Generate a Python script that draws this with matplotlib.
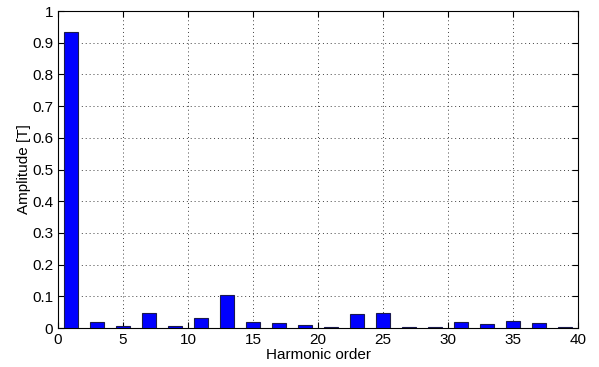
import numpy as np
import matplotlib
matplotlib.use("Agg")
import matplotlib.pyplot as plt

plt.rcParams['font.family'] = ['Liberation Sans', 'DejaVu Sans']

# odd harmonic orders and their amplitudes
orders = np.arange(1, 40, 2)
amplitudes = [0.933, 0.019, 0.007, 0.047, 0.007, 0.032, 0.105, 0.020, 0.016, 0.010,
              0.005, 0.045, 0.048, 0.004, 0.003, 0.019, 0.014, 0.023, 0.017, 0.003]

xticks = [0, 5, 10, 15, 20, 25, 30, 35, 40]
yticks = np.round(np.arange(0, 1.01, 0.1), 1)

fig = plt.figure(figsize=(5.99, 3.67), dpi=100)
ax = fig.add_axes([0.0968, 0.106, 0.8682, 0.864])

ax.bar(orders, amplitudes, width=1.05, color=(0, 0, 1), edgecolor=(0.1, 0.1, 0.3),
       linewidth=0.8, zorder=3)

ax.set_xlim(0, 40)
ax.set_ylim(0, 1)
ax.set_xticks(xticks)
ax.set_yticks(yticks)
ax.set_yticklabels(['0'] + ['%g' % v for v in yticks[1:]])
ax.grid(True, linestyle=(0, (1, 3)), color='#404040', linewidth=0.7)
ax.set_axisbelow(True)
ax.tick_params(direction='in', length=4, labelsize=11, top=True, right=True)
for s in ax.spines.values():
    s.set_linewidth(0.8)

ax.set_xlabel('Harmonic order', fontsize=11, labelpad=1)
ax.set_ylabel('Amplitude [T]', fontsize=11, labelpad=1)

fig.savefig('out.png', dpi=100)
